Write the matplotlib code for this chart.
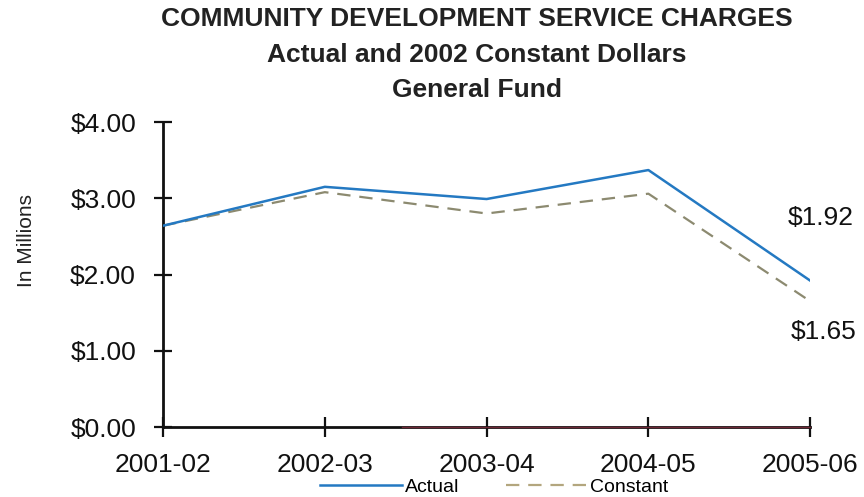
import matplotlib.pyplot as plt
from matplotlib.ticker import FuncFormatter

years = ['2001-02', '2002-03', '2003-04', '2004-05', '2005-06']
actual = [2.64, 3.15, 2.99, 3.37, 1.92]
constant = [2.64, 3.08, 2.80, 3.06, 1.65]

plt.rcParams['font.family'] = ['Liberation Sans', 'DejaVu Sans']

fig = plt.figure(figsize=(8.64, 4.97), dpi=100)
ax = fig.add_axes([0.1887, 0.1408, 0.749, 0.6137])

x = list(range(len(years)))
ax.plot(x, actual, color='#2479c2', linewidth=1.8, label='Actual', zorder=3)
ax.plot(x, constant, color='#8c8a70', linewidth=1.6, linestyle=(0, (6, 4)),
        label='Constant', zorder=2)

ax.set_xlim(0, 4)
ax.set_ylim(0, 4)
ax.set_xticks(x)
ax.set_xticklabels(years)
ax.set_yticks([0, 1, 2, 3, 4])
ax.yaxis.set_major_formatter(FuncFormatter(lambda v, p: f'${v:.2f}'))

for s in ['top', 'right']:
    ax.spines[s].set_visible(False)
for s in ['left', 'bottom']:
    ax.spines[s].set_linewidth(2)
    ax.spines[s].set_color('#111111')
# faint maroon baseline running along the right part of the x axis
ax.axhline(0, xmin=0.37, xmax=1, color='#6e2836', linewidth=1.0, zorder=4,
           clip_on=False)

ax.tick_params(axis='y', direction='inout', length=13, width=1.6,
               labelsize=19, pad=13, colors='#111111')
ax.tick_params(axis='x', direction='inout', length=14, width=1.6,
               labelsize=19, pad=12, colors='#111111')

ax.set_ylabel('In Millions', fontsize=15, color='#222222')
ax.yaxis.set_label_coords(-0.196, 0.61)

# value labels for the last year
ax.annotate(f'${actual[-1]:.2f}', xy=(x[-1], actual[-1]), xytext=(-16, 45),
            textcoords='offset points', fontsize=19, color='#111111',
            va='center', ha='left')
ax.annotate(f'${constant[-1]:.2f}', xy=(x[-1], constant[-1]), xytext=(-14, -22.5),
            textcoords='offset points', fontsize=19, color='#111111',
            va='center', ha='left')

title_font = ['Liberation Sans Narrow', 'Liberation Sans', 'DejaVu Sans']
fig.text(0.552, 0.961, 'COMMUNITY DEVELOPMENT SERVICE CHARGES', ha='center',
         va='center', fontsize=19, fontweight='bold', family=title_font,
         color='#222222')
fig.text(0.552, 0.889, 'Actual and 2002 Constant Dollars', ha='center',
         va='center', fontsize=19, fontweight='bold', family=title_font,
         color='#222222')
fig.text(0.552, 0.819, 'General Fund', ha='center', va='center', fontsize=19,
         fontweight='bold', family=title_font, color='#222222')

leg = fig.legend(loc='center', bbox_to_anchor=(0.572, 0.02), ncol=2,
                 frameon=False, fontsize=14, handlelength=4.2,
                 handletextpad=0.15, columnspacing=2.4)
leg.get_lines()[1].set_color('#b3a67e')

fig.savefig('out.png', dpi=100)
